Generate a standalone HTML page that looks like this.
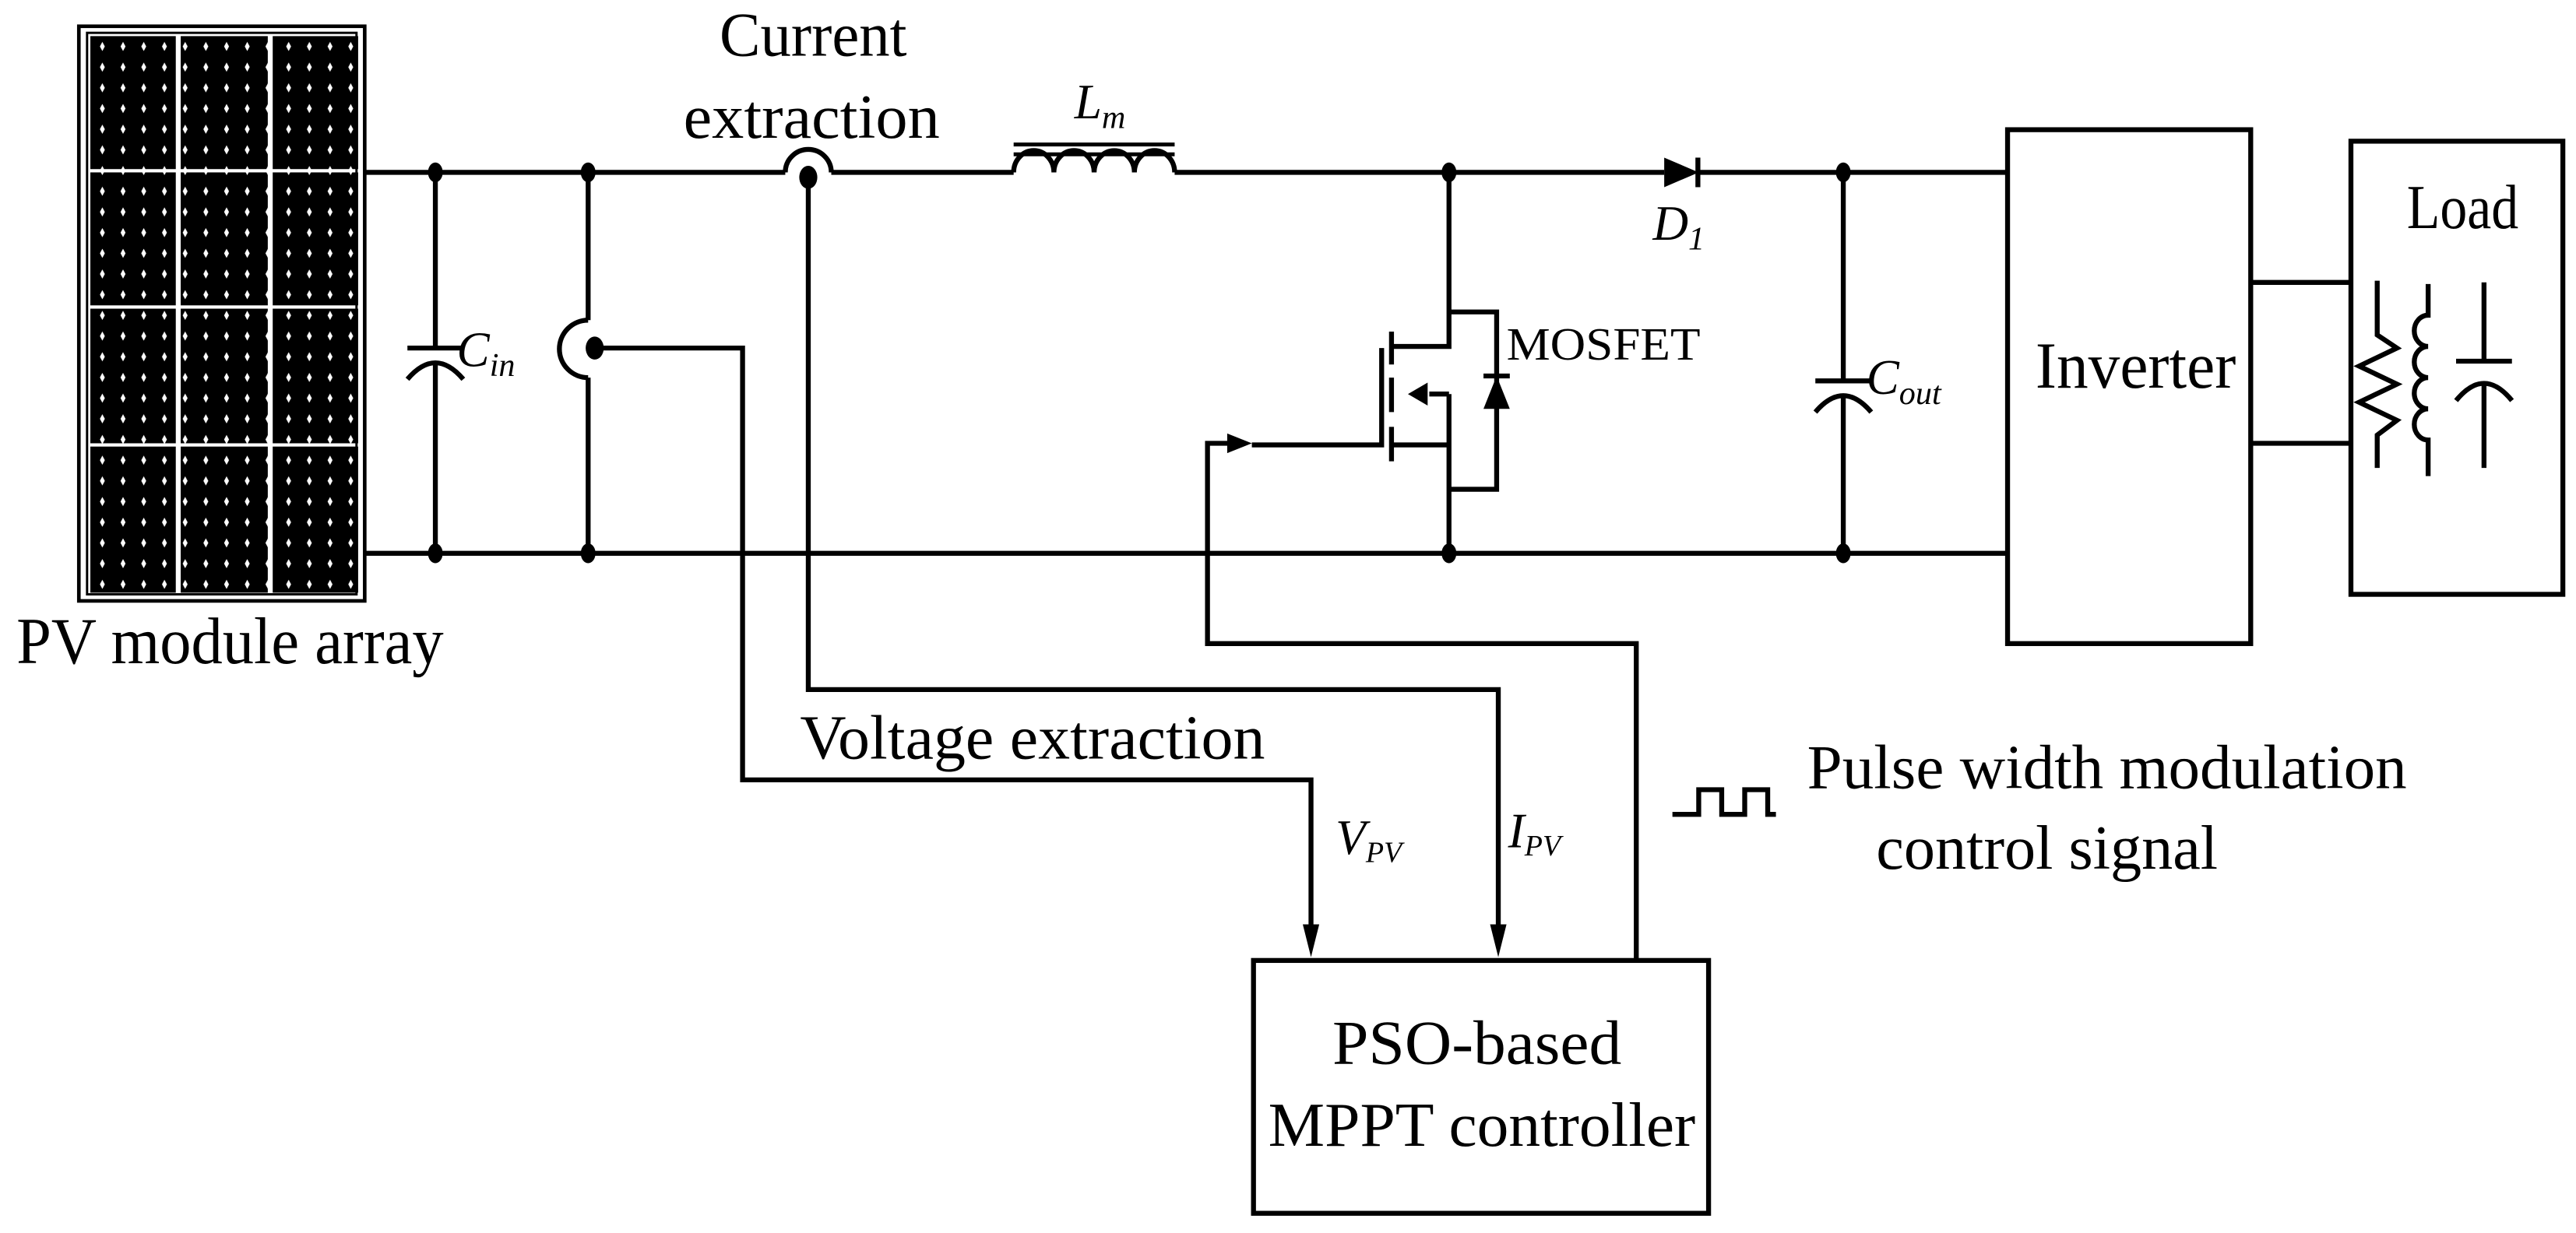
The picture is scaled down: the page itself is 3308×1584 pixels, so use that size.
<!DOCTYPE html>
<html><head><meta charset="utf-8"><style>html,body{margin:0;padding:0;background:#fff}svg{display:block}svg text{font-family:"Liberation Serif","Times New Roman",serif}</style></head>
<body>
<svg width="3308" height="1584" viewBox="0 0 1568 751" preserveAspectRatio="none" xmlns="http://www.w3.org/2000/svg" style="font-family:'Liberation Serif',serif">
<defs>
<pattern id="cell" x="56" y="22" width="12.6" height="12.6" patternUnits="userSpaceOnUse">
<rect width="12.6" height="12.6" fill="#000"/>
<path d="M6.3 3.5 L7.8 6.3 L6.3 9.1 L4.8 6.3Z" fill="#fff"/>
</pattern>
</defs>
<g fill="none" stroke="#000" stroke-width="2.2">
<rect x="48" y="16" width="174" height="350"/>
<rect x="53" y="20" width="164" height="342" stroke-width="1.4"/>
</g>
<g fill="url(#cell)">
<rect x="55" y="22" width="52" height="81"/><rect x="110" y="22" width="53" height="81"/><rect x="166" y="22" width="52" height="81"/>
<rect x="55" y="105" width="52" height="81"/><rect x="110" y="105" width="53" height="81"/><rect x="166" y="105" width="52" height="81"/>
<rect x="55" y="188" width="52" height="82"/><rect x="110" y="188" width="53" height="82"/><rect x="166" y="188" width="52" height="82"/>
<rect x="55" y="272" width="52" height="89"/><rect x="110" y="272" width="53" height="89"/><rect x="166" y="272" width="52" height="89"/>
</g>
<g fill="none" stroke="#000" stroke-width="3">
<path d="M222 105 H478 M506 105 H617 M715 105 H1013 M1034 105 H1222"/>
<path d="M478 105 A14 14 0 0 1 506 105"/>
<path d="M617 105 a12 13 0 0 1 24.5 0 a12 13 0 0 1 24.5 0 a12 13 0 0 1 24.5 0 a12 13 0 0 1 24.5 0"/>
<path d="M617 88 H715 M617 94 H715" stroke-width="2.4"/>
<path d="M222 337 H1222"/>
<path d="M265 105 V212 M248 212 H282 M265 221 V337"/>
<path d="M248 231 Q265 211 282 231"/>
<path d="M358 105 V195 M358 230 V337"/>
<path d="M358 195 A17 17 0 0 0 358 230"/>
<path d="M362 212 H452 V475 H798 V565"/>
<path d="M492 108 V420 H912 V565"/>
<path d="M996 585 V392 H735 V270 H750"/>
<path d="M882 105 V211 H847 M882 190 H911 V298 H882 M882 240 V337 M882 240 H870"/>
<path d="M847 271 H882"/>
<path d="M847 202 V222 M847 230 V251 M847 260 V281"/>
<path d="M841 212 V271 H762"/>
<path d="M903 229 H919"/>
<path d="M1122 105 V232 M1105 232 H1139 M1122 241 V337"/>
<path d="M1105 251 Q1122 231 1139 251"/>
<rect x="1222" y="79" width="148" height="313"/>
<rect x="1431" y="86" width="129" height="276"/>
<path d="M1370 172 H1431 M1370 270 H1431"/>
<path d="M1447 171 V204 L1459 212 L1436 223 L1459 234 L1436 245 L1459 256 L1447 265 V285"/>
<path d="M1478 173 V192 a8 9 0 0 0 0 19 a8 9 0 0 0 0 19 a8 9 0 0 0 0 19 a8 9 0 0 0 0 19 V290"/>
<path d="M1512 172 V220 M1495 220 H1529 M1512 233 V285"/>
<path d="M1495 244 Q1512 223 1529 244"/>
<rect x="763" y="585" width="277" height="154"/>
<path d="M1018 496 H1034 V481 H1048 V496 H1062 V481 H1076 V496 H1081"/>
</g>
<g fill="#000">
<ellipse cx="265" cy="105" rx="4.5" ry="6"/><ellipse cx="358" cy="105" rx="4.5" ry="6"/>
<ellipse cx="265" cy="337" rx="4.5" ry="6"/><ellipse cx="358" cy="337" rx="4.5" ry="6"/>
<ellipse cx="492" cy="108" rx="5.5" ry="7"/><ellipse cx="362" cy="212" rx="5.5" ry="7"/>
<ellipse cx="882" cy="105" rx="4.5" ry="6"/><ellipse cx="882" cy="337" rx="4.5" ry="6"/>
<ellipse cx="1122" cy="105" rx="4.5" ry="6"/><ellipse cx="1122" cy="337" rx="4.5" ry="6"/>
<path d="M1013 96 L1034 105 L1013 114Z"/><rect x="1032" y="96" width="3" height="18"/>
<path d="M903 249 L911 229 L919 249Z"/>
<path d="M857 240 L869 233 L869 247Z"/>
<path d="M747 264 L762 270 L747 276Z"/>
<path d="M793 563 L798 583 L803 563Z"/>
<path d="M907 563 L912 583 L917 563Z"/>
</g>
<g fill="#000" font-size="38">
<text x="10" y="404" textLength="260" lengthAdjust="spacingAndGlyphs" font-size="40">PV module array</text>
<text x="438" y="34" textLength="114" lengthAdjust="spacingAndGlyphs">Current</text>
<text x="416" y="84" textLength="156" lengthAdjust="spacingAndGlyphs">extraction</text>
<text x="487" y="462" textLength="283" lengthAdjust="spacingAndGlyphs">Voltage extraction</text>
<text x="1239" y="236" textLength="122" lengthAdjust="spacingAndGlyphs" font-size="40">Inverter</text>
<text x="1465" y="139" textLength="68" lengthAdjust="spacingAndGlyphs">Load</text>
<text x="811" y="648" textLength="176" lengthAdjust="spacingAndGlyphs">PSO-based</text>
<text x="772" y="698" textLength="260" lengthAdjust="spacingAndGlyphs">MPPT controller</text>
<text x="1100" y="480" textLength="365" lengthAdjust="spacingAndGlyphs">Pulse width modulation</text>
<text x="1142" y="529" textLength="208" lengthAdjust="spacingAndGlyphs">control signal</text>
<text x="917" y="219" font-size="28" textLength="118" lengthAdjust="spacingAndGlyphs">MOSFET</text>
<g font-style="italic" font-size="30">
<text x="278" y="223">C<tspan font-size="20" dy="6">in</tspan></text>
<text x="654" y="72">L<tspan font-size="20" dy="6">m</tspan></text>
<text x="1006" y="146">D<tspan font-size="20" dy="6">1</tspan></text>
<text x="1136" y="240">C<tspan font-size="20" dy="6">out</tspan></text>
<text x="813" y="520">V<tspan font-size="18" dy="5">PV</tspan></text>
<text x="918" y="516">I<tspan font-size="18" dy="5">PV</tspan></text>
</g>
</g>
</svg>
</body></html>
